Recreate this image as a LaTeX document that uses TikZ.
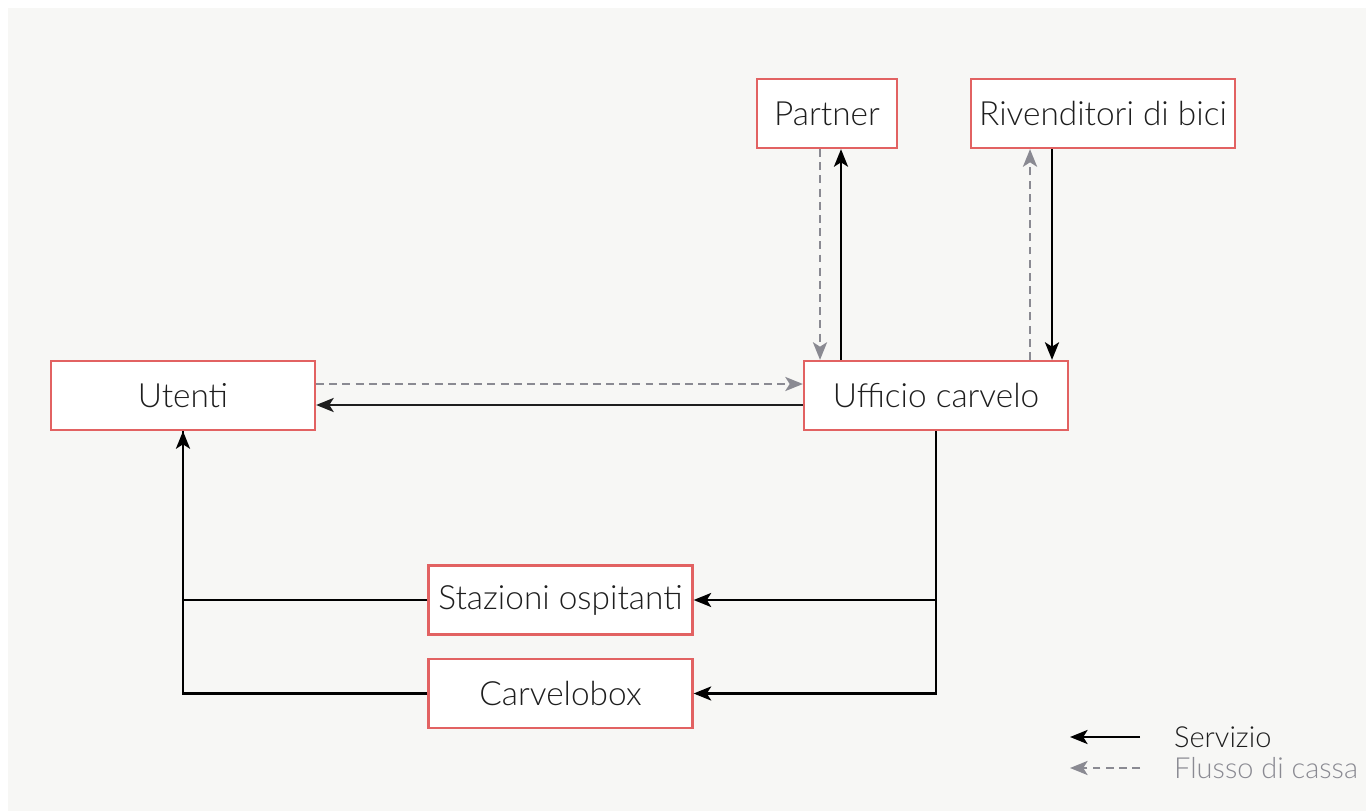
\documentclass[tikz,border=0pt]{standalone}
\usepackage{fontspec}
\setmainfont{Lato Light}
\usetikzlibrary{positioning, arrows.meta}
\definecolor{boxred}{RGB}{226,98,98}
\definecolor{cashgray}{RGB}{138,138,146}
\definecolor{bggray}{RGB}{247,247,245}
\definecolor{textdark}{RGB}{30,30,30}

\begin{document}
\begin{tikzpicture}[
        x=0.02cm, y=-0.02cm,
        box/.style={rectangle, draw=boxred, line width=1.3pt, fill=white, minimum width=5.28cm, minimum height=1.38cm, inner sep=0pt, font=\fontsize{19}{22}\selectfont, text=textdark},
        serv/.style={->, >={Stealth[length=10pt, width=8pt, inset=2.5pt]}, line width=1.5pt},
        cash/.style={serv, cashgray, dash pattern=on 4.5pt off 3pt}
    ]
    % Background
    \useasboundingbox (0,0) rectangle (1366,811);
    \fill[bggray] (8,8) rectangle (1366,811);

    % Top: partners
    \node[box, minimum width=2.8cm] (partner) at (827,113.5) {Partner};
    \node[box] (rivend) at (1103,113.5) {Rivenditori di bici};

    % Middle row
    \node[box] (utenti) at (183,395.5) {Utenti};
    \node[box] (ufficio) at (936,395.5) {Ufficio carvelo};

    % Bottom row
    \node[box] (stazioni) at (560.5,600) {Stazioni ospitanti};
    \node[box] (carvelobox) at (560.5,693.5) {Carvelobox};

    % Arrows between partners and office
    \draw[cash] ([xshift=-0.14cm]partner.south) -- ([xshift=-0.14cm]partner.south |- ufficio.north);
    \draw[serv] ([xshift=0.28cm]partner.south |- ufficio.north) -- ([xshift=0.28cm]partner.south);
    \draw[cash] ([xshift=-1.46cm]rivend.south |- ufficio.north) -- ([xshift=-1.46cm]rivend.south);
    \draw[serv] ([xshift=-1.02cm]rivend.south) -- ([xshift=-1.02cm]rivend.south |- ufficio.north);

    % Users and office
    \draw[cash] ([yshift=0.23cm]utenti.east) -- ([yshift=0.23cm]utenti.east -| ufficio.west);
    \draw[serv, textdark] ([yshift=-0.19cm]ufficio.west) -- ([yshift=-0.19cm]ufficio.west -| utenti.east);

    % Office to stations and boxes
    \draw[serv] (ufficio.south) |- (carvelobox.east);
    \draw[serv] (ufficio.south |- stazioni.east) -- (stazioni.east);

    % Stations and boxes to users
    \draw[line width=1.5pt] (stazioni.west) -| (utenti.south);
    \draw[serv] (carvelobox.west) -| (utenti.south);

    % Legend
    \coordinate (lgA) at (1140,737);
    \coordinate (lgB) at (1140,768);
    \draw[serv] (lgA) -- ++(-70,0);
    \draw[cash] (lgB) -- ++(-70,0);
    \node[anchor=west, font=\fontsize{16.5}{19}\selectfont, text=textdark] (servizio) at (1168,737) {Servizio};
    \node[anchor=west, font=\fontsize{16.5}{19}\selectfont, text=cashgray] (flusso) at (1168,768) {Flusso di cassa};

\end{tikzpicture}
\end{document}
